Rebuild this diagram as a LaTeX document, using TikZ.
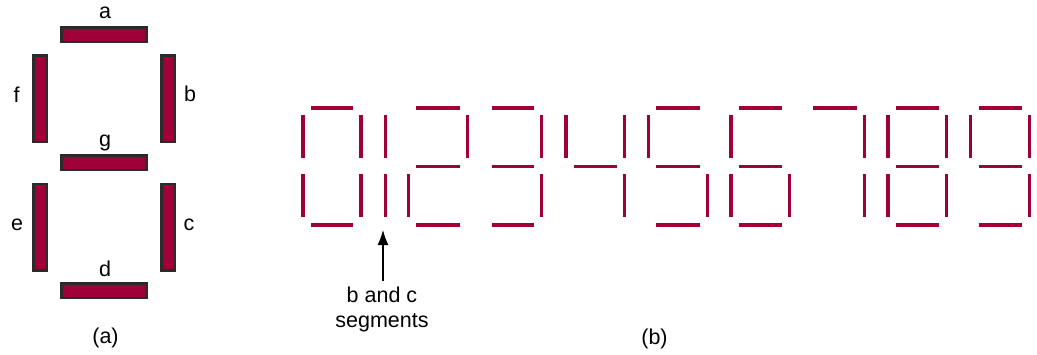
\documentclass[tikz,border=0pt]{standalone}
\usepackage{fontspec}
\setmainfont{Liberation Sans}
\usetikzlibrary{arrows.meta}
\definecolor{segred}{HTML}{A00038}
\definecolor{segedge}{HTML}{2B2B2B}
\newcommand\segdraw[3]{\foreach \s in {#3}{\csname sg\s\endcsname{#1}{#2}}}
\newcommand\sga[2]{\draw[segline] ({#1+8},108) -- ({#2-7.7},108);}
\newcommand\sgb[2]{\draw[segline] (#2,115.3) -- (#2,158.3);}
\newcommand\sgc[2]{\draw[segline] (#2,174) -- (#2,216.7);}
\newcommand\sgd[2]{\draw[segline] ({#1+8},225) -- ({#2-7.7},225);}
\newcommand\sge[2]{\draw[segline] (#1,174) -- (#1,216.7);}
\newcommand\sgf[2]{\draw[segline] (#1,115.3) -- (#1,158.3);}
\newcommand\sgg[2]{\draw[segline] ({#1+8},166.3) -- ({#2-7.7},166.3);}
\begin{document}
\begin{tikzpicture}[x=1pt,y=-1pt,
  every node/.style={font=\fontsize{21.5}{25}\selectfont, inner sep=0pt},
  hseg/.style={draw=segedge, fill=segred, line width=2.5pt, minimum width=85.5pt, minimum height=14.5pt},
  vseg/.style={draw=segedge, fill=segred, line width=2.5pt, minimum width=13.5pt, minimum height=86.5pt},
  segline/.style={draw=segred, line width=3.5pt},
  pointer/.style={line width=1.2pt, -{Latex[length=15pt,width=11pt]}}]
\useasboundingbox (0,0) rectangle (1037,354);
% (a) seven-segment layout
\node[hseg] (sa) at (104,34.5) {};
\node[vseg] (sf) at (40,98.5) {};
\node[vseg] (sb) at (168,98.5) {};
\node[hseg] (sg) at (104,162.5) {};
\node[vseg] (se) at (40,227) {};
\node[vseg] (sc) at (168,227) {};
\node[hseg] (sd) at (104,290.5) {};
\node (la) at (105,13) {a};
\node (lf) at (16.7,94.7) {f};
\node (lb) at (190,94) {b};
\node (lg) at (105,142.5) {g};
\node (le) at (17,224.7) {e};
\node (lc) at (189,224.7) {c};
\node (ld) at (105,269) {d};
\node (capa) at (105.5,338) {(a)};
% (b) digits
\segdraw{303}{361}{a,b,c,d,e,f}
\segdraw{327}{385.3}{b,c}
\segdraw{408.3}{467.3}{a,b,g,e,d}
\segdraw{484}{541.7}{a,b,g,c,d}
\segdraw{566}{624.7}{f,g,b,c}
\segdraw{648.3}{707.3}{a,f,g,c,d}
\segdraw{731}{789.3}{a,f,g,e,c,d}
\segdraw{805}{864.7}{a,b,c}
\segdraw{888}{946.7}{a,b,c,d,e,f,g}
\segdraw{970.7}{1029.3}{a,b,c,d,f,g}
\node[align=center] (note) at (382,309.5) {b and c\\segments};
\coordinate (tail) at (383,281);
\coordinate (tip) at (383,230);
\draw[pointer] (tail) -- (tip);
\node (capb) at (654.5,339) {(b)};
\end{tikzpicture}
\end{document}
